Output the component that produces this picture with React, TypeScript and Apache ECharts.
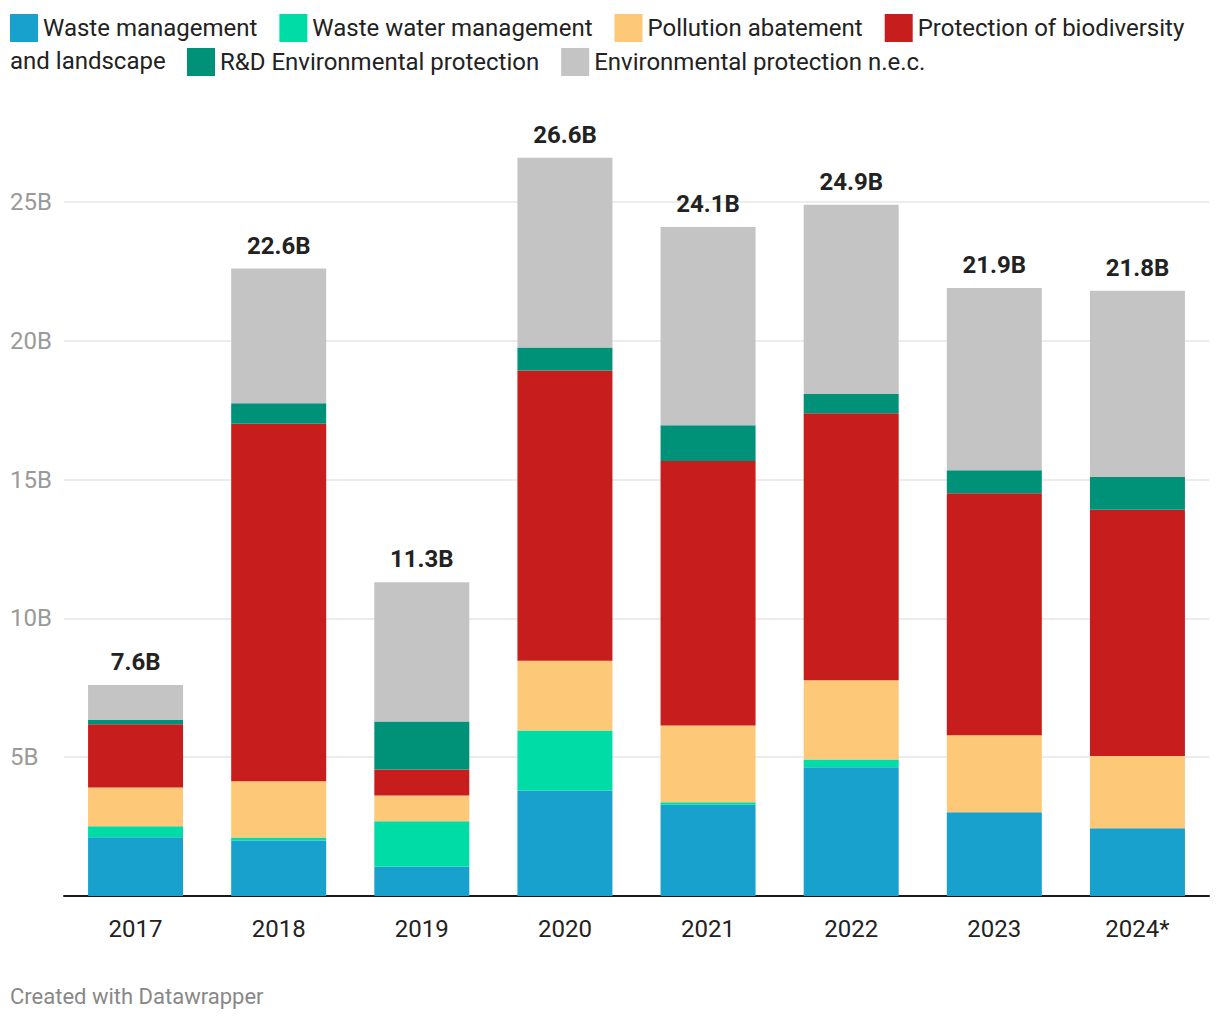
import React, { useEffect, useRef } from "react";
import * as echarts from "echarts";

const years = ["2017", "2018", "2019", "2020", "2021", "2022", "2023", "2024*"];
const seriesNames = [
  "Waste management",
  "Waste water management",
  "Pollution abatement",
  "Protection of biodiversity and landscape",
  "R&D Environmental protection",
  "Environmental protection n.e.c.",
];
const wasteManagement = [2.12, 2.0, 1.06, 3.8, 3.29, 4.64, 3.02, 2.44];
const wasteWater = [0.39, 0.11, 1.63, 2.16, 0.09, 0.28, 0, 0];
const pollution = [1.4, 2.02, 0.93, 2.51, 2.76, 2.85, 2.77, 2.6];
const biodiversity = [2.28, 12.88, 0.94, 10.46, 9.53, 9.62, 8.72, 8.87];
const rdEnv = [0.15, 0.74, 1.73, 0.83, 1.29, 0.69, 0.83, 1.18];
const nec = [1.26, 4.85, 5.01, 6.83, 7.14, 6.82, 6.56, 6.71];
const totals = [7.6, 22.6, 11.3, 26.6, 24.1, 24.9, 21.9, 21.8];
const colors = ["#18a1cd", "#00dca6", "#fdc878", "#c71e1d", "#009179", "#c4c4c4"];
const yTicks = [0, 5, 10, 15, 20, 25];

const FONT = "Roboto, 'Noto Sans', sans-serif";

export default function App() {
  const ref = useRef<HTMLDivElement>(null);
  useEffect(() => {
    if (!ref.current) return;
    const chart = echarts.init(ref.current, undefined, { renderer: "svg" });
    const values = [wasteManagement, wasteWater, pollution, biodiversity, rdEnv, nec];
    const series: any[] = values.map((arr, i) => ({
      name: seriesNames[i],
      type: "bar",
      stack: "total",
      barWidth: 95,
      clip: false,
      data: arr,
      itemStyle: { color: colors[i] },
      emphasis: { disabled: true },
      label:
        i === values.length - 1
          ? {
              show: true,
              position: "top",
              distance: 11,
              formatter: (p: any) => totals[p.dataIndex].toFixed(1) + "B",
              fontFamily: FONT,
              fontWeight: "bold",
              fontSize: 24,
              color: "#222222",
            }
          : { show: false },
    }));
    chart.setOption({
      animation: false,
      textStyle: { fontFamily: FONT },
      legend: [
        {
          data: seriesNames.slice(0, 4),
          left: 10,
          top: 14,
          padding: 0,
          itemWidth: 28,
          itemHeight: 28,
          itemGap: 22,
          icon: "rect",
          selectedMode: false,
          formatter: (n: string) =>
            n === "Protection of biodiversity and landscape" ? "Protection of biodiversity" : n,
          textStyle: { fontFamily: FONT, fontSize: 24, color: "#222222" },
        },
        {
          data: seriesNames.slice(4),
          left: 187,
          top: 48,
          padding: 0,
          itemWidth: 28,
          itemHeight: 28,
          itemGap: 22,
          icon: "rect",
          selectedMode: false,
          textStyle: { fontFamily: FONT, fontSize: 24, color: "#222222" },
        },
      ],
      graphic: [
        {
          type: "text",
          left: 10,
          top: 49,
          style: { text: "and landscape", fontFamily: FONT, fontSize: 24, fill: "#222222" },
        },
        {
          type: "text",
          left: 10,
          top: 985,
          style: { text: "Created with Datawrapper", fontFamily: FONT, fontSize: 22, fill: "#888888" },
        },
      ],
      grid: { left: 64, right: 11, top: 202, bottom: 124, containLabel: false },
      xAxis: {
        type: "category",
        data: years,
        axisLine: { lineStyle: { color: "#1a1a1a", width: 2 } },
        axisTick: { alignWithLabel: true, length: 10, lineStyle: { color: "#1a1a1a", width: 2 } },
        axisLabel: { fontFamily: FONT, fontSize: 24, color: "#222222", margin: 21 },
      },
      yAxis: {
        type: "value",
        min: yTicks[0],
        max: yTicks[yTicks.length - 1],
        interval: 5,
        axisLine: { show: false },
        axisTick: { show: false },
        splitLine: { lineStyle: { color: "#e6e6e6", width: 1.6 } },
        axisLabel: {
          fontFamily: FONT,
          fontSize: 24,
          color: "#9a9a9a",
          align: "left",
          margin: 54,
          formatter: (v: number) => (v === 0 ? "" : v + "B"),
        },
      },
      series,
    });
    return () => chart.dispose();
  }, []);
  return (
    <div
      ref={ref}
      style={{ position: "absolute", left: 0, top: 0, width: 1220, height: 1020, background: "#ffffff" }}
    />
  );
}
